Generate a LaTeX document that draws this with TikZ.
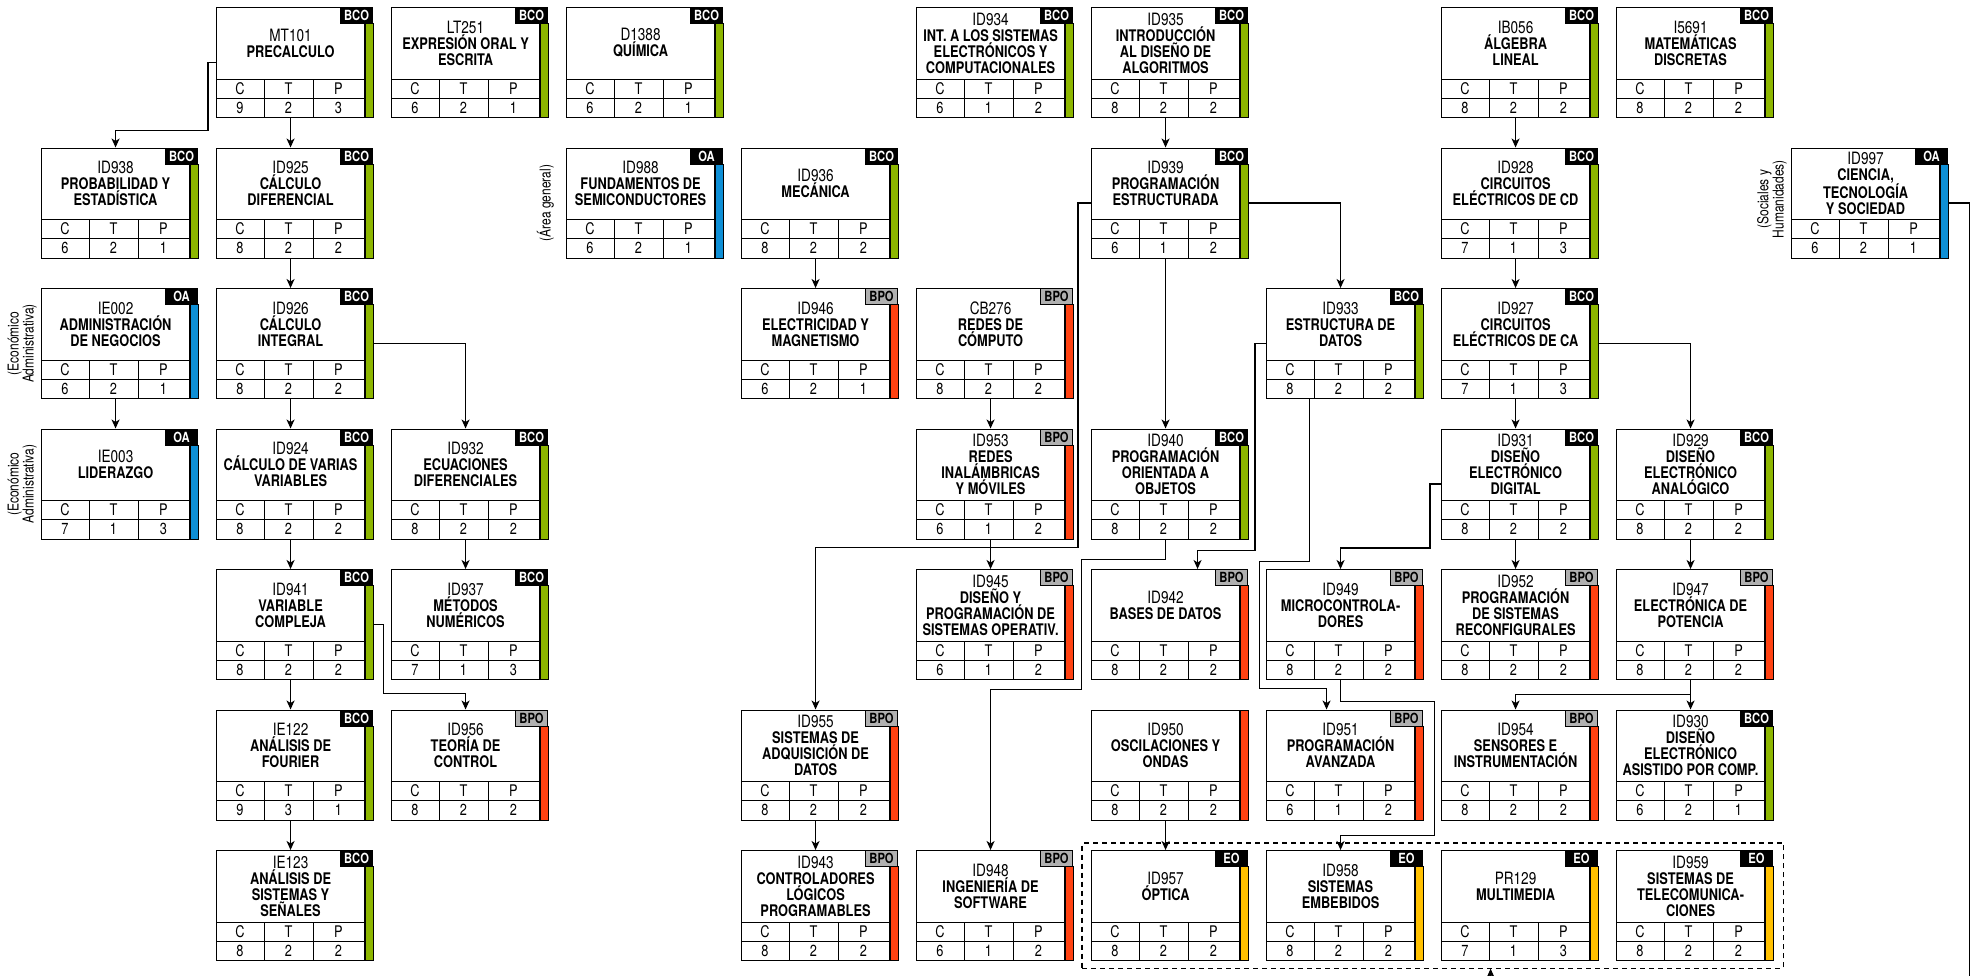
\documentclass[tikz,border=0pt]{standalone}
\usepackage{fontspec}
\setmainfont{TeX Gyre Heros}[FakeStretch=0.8]
\usetikzlibrary{calc,arrows.meta,fit}

\definecolor{barBCO}{HTML}{8DB600}
\definecolor{barBPO}{HTML}{FF4212}
\definecolor{barOA}{HTML}{0E8FD6}
\definecolor{barEO}{HTML}{FFC000}
\definecolor{tagGrey}{HTML}{B0B0B0}

\tikzset{
  course/.style={draw, line width=1.1pt, fill=white, anchor=north west,
    minimum width=148pt, minimum height=110pt, inner sep=0pt},
  title/.style={align=center, inner sep=0pt, font=\fontsize{16}{16}\selectfont\bfseries},
  cell/.style={inner sep=0pt, font=\fontsize{16}{16}\selectfont},
  grid/.style={line width=1pt},
  bar/.style={draw, line width=1.1pt, anchor=north west, minimum width=8pt,
    minimum height=94pt, inner sep=0pt},
  tag/.style={draw, line width=1.1pt, anchor=north east, minimum width=32pt,
    minimum height=16pt, inner sep=0pt, font=\fontsize{14}{14}\selectfont\bfseries},
  tagBCO/.style={fill=black, text=white},
  tagBPO/.style={fill=tagGrey, text=black},
  tagOA/.style={fill=black, text=white},
  tagEO/.style={fill=black, text=white},
  link/.style={line width=1.2pt, -{Stealth[length=9pt,width=8pt,inset=2.5pt]}},
  note/.style={rotate=90, anchor=south, align=center, inner sep=0pt,
    font=\fontsize{15}{13}\selectfont},
  optgroup/.style={draw, dash pattern=on 5pt off 4pt, line width=1.1pt,
    inner xsep=9pt, inner ysep=7pt},
}

% #1 code, #2 column, #3 row, #4 title, #5 C, #6 T, #7 P, #8 kind
\newcommand{\course}[8]{%
  \node[course] (#1) at ({41+175*#2},{7+140.5*#3}) {};
  \node[title] (#1-name) at ($(#1.north)+(0,36)$)
    {\fontsize{17}{16}\selectfont\mdseries #1\\#4};
  \draw[grid] ($(#1.north west)+(0,72)$) -- ($(#1.north east)+(0,72)$);
  \draw[grid] ($(#1.north west)+(0,91)$) -- ($(#1.north east)+(0,91)$);
  \draw[grid] ($(#1.north west)+(48,72)$) -- ($(#1.south west)+(48,0)$);
  \draw[grid] ($(#1.north west)+(97,72)$) -- ($(#1.south west)+(97,0)$);
  \node[cell] (#1-hc) at ($(#1.north west)+(24,81.5)$) {C};
  \node[cell] (#1-ht) at ($(#1.north west)+(72.5,81.5)$) {T};
  \node[cell] (#1-hp) at ($(#1.north west)+(122.5,81.5)$) {P};
  \node[cell] (#1-vc) at ($(#1.north west)+(24,100.5)$) {#5};
  \node[cell] (#1-vt) at ($(#1.north west)+(72.5,100.5)$) {#6};
  \node[cell] (#1-vp) at ($(#1.north west)+(122.5,100.5)$) {#7};
  \ifx\relax#8\relax
    \node[bar, fill=barBPO, minimum height=110pt] (#1-bar) at (#1.north east) {};
  \else
    \node[tag, tag#8] (#1-tag) at ($(#1.north east)+(8,0)$) {#8};
    \node[bar, fill=bar#8] (#1-bar) at ($(#1.north east)+(0,16)$) {};
  \fi
}

\begin{document}
\begin{tikzpicture}[x=1pt, y=-1pt]
  \useasboundingbox (0,0) rectangle (1976,975);
  \fill[white] (0,0) rectangle (1976,975);

  \course{MT101}{1}{0}{PRECALCULO}{9}{2}{3}{BCO}
  \course{LT251}{2}{0}{EXPRESIÓN ORAL Y\\ESCRITA}{6}{2}{1}{BCO}
  \course{D1388}{3}{0}{QUÍMICA}{6}{2}{1}{BCO}
  \course{ID934}{5}{0}{INT. A LOS SISTEMAS\\ELECTRÓNICOS Y\\COMPUTACIONALES}{6}{1}{2}{BCO}
  \course{ID935}{6}{0}{INTRODUCCIÓN\\AL DISEÑO DE\\ALGORITMOS}{8}{2}{2}{BCO}
  \course{IB056}{8}{0}{ÁLGEBRA\\LINEAL}{8}{2}{2}{BCO}
  \course{I5691}{9}{0}{MATEMÁTICAS\\DISCRETAS}{8}{2}{2}{BCO}

  \course{ID938}{0}{1}{PROBABILIDAD Y\\ESTADÍSTICA}{6}{2}{1}{BCO}
  \course{ID925}{1}{1}{CÁLCULO\\DIFERENCIAL}{8}{2}{2}{BCO}
  \course{ID988}{3}{1}{FUNDAMENTOS DE\\SEMICONDUCTORES}{6}{2}{1}{OA}
  \course{ID936}{4}{1}{MECÁNICA}{8}{2}{2}{BCO}
  \course{ID939}{6}{1}{PROGRAMACIÓN\\ESTRUCTURADA}{6}{1}{2}{BCO}
  \course{ID928}{8}{1}{CIRCUITOS\\ELÉCTRICOS DE CD}{7}{1}{3}{BCO}
  \course{ID997}{10}{1}{CIENCIA,\\TECNOLOGÍA\\Y SOCIEDAD}{6}{2}{1}{OA}

  \course{IE002}{0}{2}{ADMINISTRACIÓN\\DE NEGOCIOS}{6}{2}{1}{OA}
  \course{ID926}{1}{2}{CÁLCULO\\INTEGRAL}{8}{2}{2}{BCO}
  \course{ID946}{4}{2}{ELECTRICIDAD Y\\MAGNETISMO}{6}{2}{1}{BPO}
  \course{CB276}{5}{2}{REDES DE\\CÓMPUTO}{8}{2}{2}{BPO}
  \course{ID933}{7}{2}{ESTRUCTURA DE\\DATOS}{8}{2}{2}{BCO}
  \course{ID927}{8}{2}{CIRCUITOS\\ELÉCTRICOS DE CA}{7}{1}{3}{BCO}

  \course{IE003}{0}{3}{LIDERAZGO}{7}{1}{3}{OA}
  \course{ID924}{1}{3}{CÁLCULO DE VARIAS\\VARIABLES}{8}{2}{2}{BCO}
  \course{ID932}{2}{3}{ECUACIONES\\DIFERENCIALES}{8}{2}{2}{BCO}
  \course{ID953}{5}{3}{REDES\\INALÁMBRICAS\\Y MÓVILES}{6}{1}{2}{BPO}
  \course{ID940}{6}{3}{PROGRAMACIÓN\\ORIENTADA A\\OBJETOS}{8}{2}{2}{BCO}
  \course{ID931}{8}{3}{DISEÑO\\ELECTRÓNICO\\DIGITAL}{8}{2}{2}{BCO}
  \course{ID929}{9}{3}{DISEÑO\\ELECTRÓNICO\\ANALÓGICO}{8}{2}{2}{BCO}

  \course{ID941}{1}{4}{VARIABLE\\COMPLEJA}{8}{2}{2}{BCO}
  \course{ID937}{2}{4}{MÉTODOS\\NUMÉRICOS}{7}{1}{3}{BCO}
  \course{ID945}{5}{4}{DISEÑO Y\\PROGRAMACIÓN DE\\SISTEMAS OPERATIV.}{6}{1}{2}{BPO}
  \course{ID942}{6}{4}{BASES DE DATOS}{8}{2}{2}{BPO}
  \course{ID949}{7}{4}{MICROCONTROLA-\\DORES}{8}{2}{2}{BPO}
  \course{ID952}{8}{4}{PROGRAMACIÓN\\DE SISTEMAS\\RECONFIGURALES}{8}{2}{2}{BPO}
  \course{ID947}{9}{4}{ELECTRÓNICA DE\\POTENCIA}{8}{2}{2}{BPO}

  \course{IE122}{1}{5}{ANÁLISIS DE\\FOURIER}{9}{3}{1}{BCO}
  \course{ID956}{2}{5}{TEORÍA DE\\CONTROL}{8}{2}{2}{BPO}
  \course{ID955}{4}{5}{SISTEMAS DE\\ADQUISICIÓN DE\\DATOS}{8}{2}{2}{BPO}
  \course{ID950}{6}{5}{OSCILACIONES Y\\ONDAS}{8}{2}{2}{}
  \course{ID951}{7}{5}{PROGRAMACIÓN\\AVANZADA}{6}{1}{2}{BPO}
  \course{ID954}{8}{5}{SENSORES E\\INSTRUMENTACIÓN}{8}{2}{2}{BPO}
  \course{ID930}{9}{5}{DISEÑO\\ELECTRÓNICO\\ASISTIDO POR COMP.}{6}{2}{1}{BCO}

  \course{IE123}{1}{6}{ANÁLISIS DE\\SISTEMAS Y\\SEÑALES}{8}{2}{2}{BCO}
  \course{ID943}{4}{6}{CONTROLADORES\\LÓGICOS\\PROGRAMABLES}{8}{2}{2}{BPO}
  \course{ID948}{5}{6}{INGENIERÍA DE\\SOFTWARE}{6}{1}{2}{BPO}
  \course{ID957}{6}{6}{ÓPTICA}{8}{2}{2}{EO}
  \course{ID958}{7}{6}{SISTEMAS\\EMBEBIDOS}{8}{2}{2}{EO}
  \course{PR129}{8}{6}{MULTIMEDIA}{7}{1}{3}{EO}
  \course{ID959}{9}{6}{SISTEMAS DE\\TELECOMUNICA-\\CIONES}{8}{2}{2}{EO}

  \node[optgroup, fit=(ID957)(ID959-tag)(ID959-bar)] (optativas) {};

  \node[note] (IE002-area) at ($(IE002.west)+(-4,0)$) {(Económico\\Administrativa)};
  \node[note] (IE003-area) at ($(IE003.west)+(-4,0)$) {(Económico\\Administrativa)};
  \node[note] (ID988-area) at ($(ID988.west)+(-12,0)$) {(Área general)};
  \node[note] (ID997-area) at ($(ID997.west)+(-4,-4)$) {(Sociales y\\Humanidades)};

  \draw[link] (MT101.west) -- ++(-8,0) -- ++(0,68) -| (ID938.north);
  \draw[link] (MT101.south) -- (ID925.north);
  \draw[link] (ID925.south) -- (ID926.north);
  \draw[link] (ID926.south) -- (ID924.north);
  \draw[link] (ID926-bar.east |- ID926.east) -| (ID932.north);
  \draw[link] (ID924.south) -- (ID941.north);
  \draw[link] (ID932.south) -- (ID937.north);
  \draw[link] (ID941.south) -- (IE122.north);
  \draw[link] (ID941-bar.east |- ID941.east) -- ++(9,0) -- ++(0,69) -| (ID956.north);
  \draw[link] (IE122.south) -- (IE123.north);
  \draw[link] (IE002.south) -- (IE003.north);
  \draw[link] (ID936.south) -- (ID946.north);
  \draw[link] (CB276.south) -- (ID953.north);
  \draw[link] (ID953.south) -- (ID945.north);
  \draw[link] (ID955.south) -- (ID943.north);
  \draw[link] (ID935.south) -- (ID939.north);
  \draw[link] (ID939.west) -- ++(-13,0) |- ($(ID953.south)+(0,8)$) -| (ID955.north);
  \draw[link] (ID939.south) -- (ID940.north);
  \draw[link] (ID939-bar.east |- ID939.east) -| (ID933.north);
  \draw[link] (ID940.south) -- ++(0,20) -- ++(-84,0) -- ++(0,130) -| (ID948.north);
  \draw[link] (ID933.west) -- ++(-11,0) -- ++(0,207) -| ([xshift=32pt]ID942.north);
  \draw[link] ([xshift=-31pt]ID933.south) -- ++(0,162) -- ++(-50,0) -- ++(0,127) -| ([xshift=-14pt]ID951.north);
  \draw[link] (ID931.west) -- ++(-11,0) -- ++(0,64) -| (ID949.north);
  \draw[link] (ID931.south) -- (ID952.north);
  \draw[link] (ID949.south) -- ++(0,21) -- ++(94,0) -- ++(0,134) -| (ID958.north);
  \draw[link] (IB056.south) -- (ID928.north);
  \draw[link] (ID928.south) -- (ID927.north);
  \draw[link] (ID927.south) -- (ID931.north);
  \draw[link] (ID927-bar.east |- ID927.east) -| (ID929.north);
  \draw[link] (ID929.south) -- (ID947.north);
  \draw[link] (ID947.south) -- (ID930.north);
  \draw[link] (ID947.south) -- ++(0,14) -| (ID954.north);
  \draw[link] (ID950.south) -- (ID957.north);
  \draw[link] (ID997-bar.east |- ID997.east) -- ++(20,0) -- ++(0,780) -| ([xshift=58pt]optativas.south);
\end{tikzpicture}
\end{document}
